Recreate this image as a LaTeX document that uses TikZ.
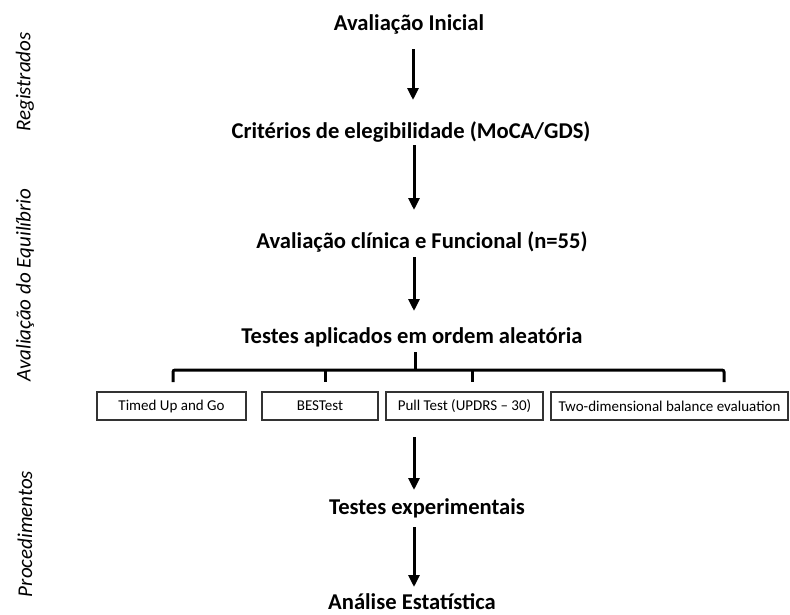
\documentclass[tikz,border=0pt]{standalone}
\usepackage{fontspec}
\setmainfont{Carlito}
\usetikzlibrary{arrows.meta}
\begin{document}
\begin{tikzpicture}[x=1pt,y=-1pt,
  title/.style={font=\fontsize{22.6}{24}\selectfont\bfseries, inner sep=0pt, anchor=base},
  side/.style={font=\fontsize{21}{23}\selectfont\itshape, rotate=90, inner sep=0pt},
  testbox/.style={draw=black!80, line width=1.1pt, minimum height=28pt, inner sep=0pt, font=\fontsize{15}{17}\selectfont},
  arr/.style={line width=3pt, -{Triangle[length=12pt,width=11pt]}},
  brace/.style={line width=3pt, rounded corners=2pt}]
\useasboundingbox[fill=white] (0,0) rectangle (790,614);
% side labels
\node[side] (s1) at (25,82) {Registrados};
\node[side] (s2) at (25,285) {Avaliação do Equilíbrio};
\node[side] (s3) at (25,534) {Procedimentos};
% main texts
\node[title] (a1) at (409,30) {Avaliação Inicial};
\node[title] (a2) at (411,138) {Critérios de elegibilidade (MoCA/GDS)};
\node[title] (a3) at (422,248) {Avaliação clínica e Funcional (n=55)};
\node[title] (a4) at (412,343) {Testes aplicados em ordem aleatória};
\node[title] (a5) at (427,514) {Testes experimentais};
\node[title] (a6) at (412,609) {Análise Estatística};
% arrow end points
\coordinate (p1s) at (413,49);  \coordinate (p1e) at (413,100);
\coordinate (p2s) at (414,145); \coordinate (p2e) at (414,210);
\coordinate (p3s) at (414,257); \coordinate (p3e) at (414,311);
\coordinate (p4s) at (414,437); \coordinate (p4e) at (414,490);
\coordinate (p5s) at (414,527); \coordinate (p5e) at (414,587);
\draw[arr] (p1s) -- (p1e);
\draw[arr] (p2s) -- (p2e);
\draw[arr] (p3s) -- (p3e);
\draw[arr] (p4s) -- (p4e);
\draw[arr] (p5s) -- (p5e);
% boxes
\node[testbox, minimum width=149pt] (b1) at (171.5,406) {Timed Up and Go};
\node[testbox, minimum width=116pt] (b2) at (320,406) {BESTest};
\node[testbox, minimum width=157pt] (b3) at (464.5,406) {Pull Test (UPDRS -- 30)};
\node[testbox, minimum width=237pt] (b4) at (669.5,406) {Two-dimensional balance evaluation};
% bracket
\coordinate (st) at (415,352);
\coordinate (hb) at (415,370);
\coordinate (t1) at (173,382);
\coordinate (t2) at (325,382);
\coordinate (t3) at (472,382);
\coordinate (t4) at (724,382);
\draw[line width=3pt] (st) -- (hb);
\draw[brace] (t1) -- (t1 |- hb) -- (t4 |- hb) -- (t4);
\draw[line width=3pt] (t2 |- hb) -- (t2);
\draw[line width=3pt] (t3 |- hb) -- (t3);
\end{tikzpicture}
\end{document}
